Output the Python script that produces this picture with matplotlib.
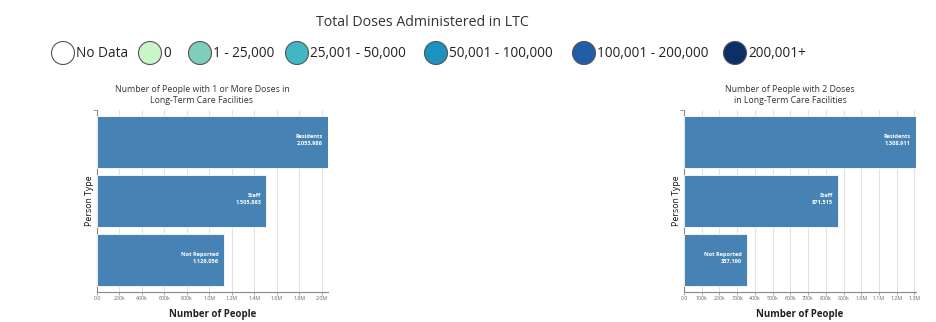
import matplotlib
matplotlib.use("Agg")
import matplotlib.pyplot as plt
from matplotlib.patches import Circle

plt.rcParams["font.family"] = ["Open Sans", "DejaVu Sans"]

# legend bins
legend_labels = ["No Data", "0", "1 - 25,000", "25,001 - 50,000", "50,001 - 100,000",
                 "100,001 - 200,000", "200,001+"]
legend_colors = ["#ffffff", "#c9f6c9", "#7fcdbb", "#41b6c4", "#1d91c0", "#225ea8", "#0b2f66"]

person_types = ["Residents", "Staff", "Not Reported"]
one_dose = [2053986, 1505863, 1126056]
two_doses = [1308911, 871515, 357190]

ticks_left = [0, 200e3, 400e3, 600e3, 800e3, 1.0e6, 1.2e6, 1.4e6, 1.6e6, 1.8e6, 2.0e6]
tick_labels_left = ["0.0", "200k", "400k", "600k", "800k", "1.0M", "1.2M", "1.4M", "1.6M", "1.8M", "2.0M"]
ticks_right = [0, 100e3, 200e3, 300e3, 400e3, 500e3, 600e3, 700e3, 800e3, 900e3,
               1.0e6, 1.1e6, 1.2e6, 1.3e6]
tick_labels_right = ["0.0", "100k", "200k", "300k", "400k", "500k", "600k", "700k", "800k",
                     "900k", "1.0M", "1.1M", "1.2M", "1.3M"]

W, H = 936, 322
fig = plt.figure(figsize=(W / 100, H / 100), dpi=100)
fig.patch.set_facecolor("white")

# legend header
fig.text(422 / W, 1 - 22 / H, "Total Doses Administered in LTC", ha="center", va="center",
         fontsize=10.2, color="#333333")
circle_x = [63, 150, 200, 297, 436, 584, 735]
lax = fig.add_axes([0, 0, 1, 1])
lax.set_xlim(0, W)
lax.set_ylim(H, 0)
lax.axis("off")
for cx, lab, col in zip(circle_x, legend_labels, legend_colors):
    lax.add_patch(Circle((cx, 53), 11.5, facecolor=col, edgecolor="#555555", lw=0.8))
    lax.text(cx + 13, 53, lab, ha="left", va="center", fontsize=9.8, color="#222222")


def bar_panel(ax, values, ticks, tick_labels, xmax, title, title_x):
    ypos = list(range(len(values)))[::-1]
    ax.barh(ypos, values, height=0.89, color="#4682b4", edgecolor="white", lw=0.6, zorder=3)
    ax.set_xlim(0, xmax)
    ax.set_ylim(-0.55, 2.55)
    ax.set_xticks(ticks)
    ax.set_xticklabels(tick_labels, fontsize=3.8, color="#666666")
    ax.set_yticks([2.55])
    ax.set_yticklabels([])
    ax.tick_params(axis="x", length=2, width=0.5, color="#888888", pad=1)
    ax.tick_params(axis="y", length=3, width=0.6, color="#888888")
    ax.grid(axis="x", color="#e2e2e2", lw=0.8, zorder=0)
    for s in ["top", "right"]:
        ax.spines[s].set_visible(False)
    for s in ["left", "bottom"]:
        ax.spines[s].set_color("#888888")
        ax.spines[s].set_linewidth(0.8)
    for y, v, name in zip(ypos, values, person_types):
        ax.text(v - xmax * 0.022, y + 0.05, name, ha="right", va="bottom", fontsize=4.1,
                color="white", fontweight="bold", zorder=4)
        ax.text(v - xmax * 0.022, y + 0.02, f"{v:,}", ha="right", va="top", fontsize=4.1,
                color="white", fontweight="bold", zorder=4)
    ax.set_ylabel("Person Type", fontsize=6.3, color="#111111", labelpad=-4)
    ax.set_xlabel("Number of People", fontsize=7, fontweight="bold", color="#222222", labelpad=6)
    fig.text(title_x / W, 1 - 95 / H, title, ha="center", va="center", fontsize=6.3,
             color="#333333", linespacing=1.25)


ax1 = fig.add_axes([97 / W, 1 - 292 / H, 231 / W, 182 / H])
bar_panel(ax1, one_dose, ticks_left, tick_labels_left, max(one_dose),
          "Number of People with 1 or More Doses in\nLong-Term Care Facilities", 202)
ax2 = fig.add_axes([684 / W, 1 - 292 / H, 232 / W, 182 / H])
bar_panel(ax2, two_doses, ticks_right, tick_labels_right, max(two_doses),
          "Number of People with 2 Doses\nin Long-Term Care Facilities", 790)

fig.savefig("out.png", dpi=100, facecolor="white")
